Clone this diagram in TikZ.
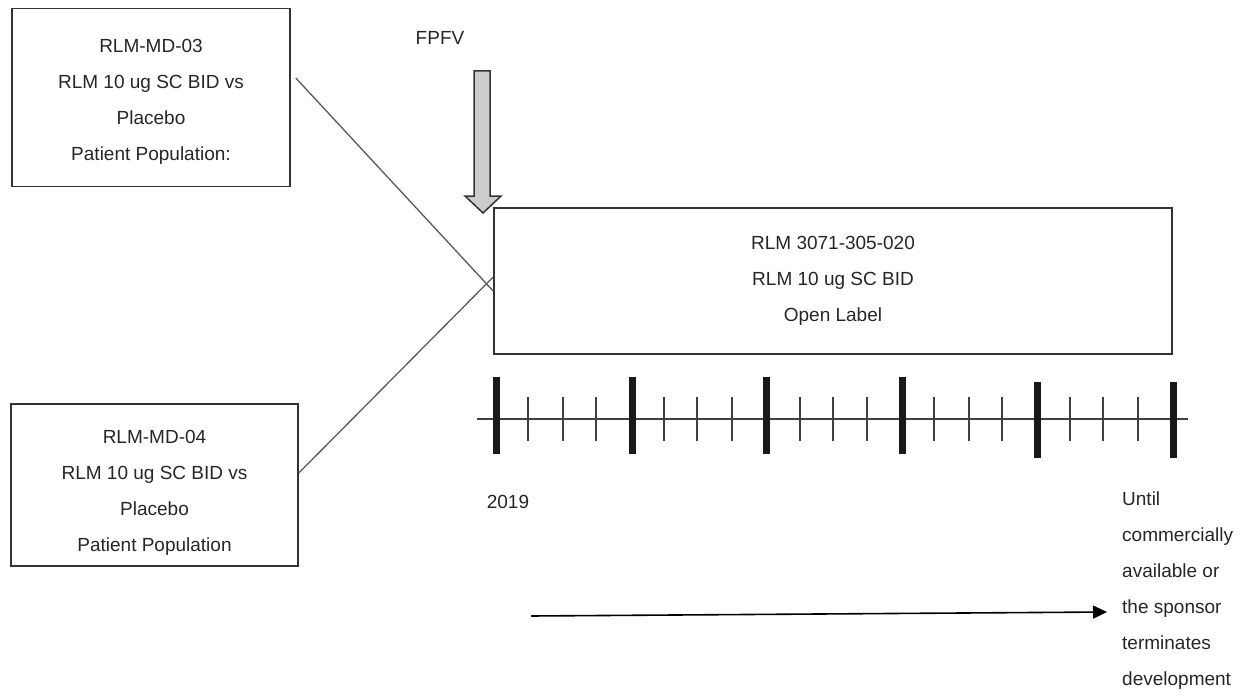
\documentclass[tikz,border=0pt]{standalone}
\usepackage{fontspec}
\setmainfont{Liberation Sans}
\usetikzlibrary{arrows.meta}
\begin{document}
\begin{tikzpicture}[x=1pt, y=-1pt, font=\fontsize{19}{36}\selectfont, text=black!85,
    studybox/.style={draw=black!80, line width=1.6pt, align=center, inner sep=0pt},
    link/.style={draw=black!65, line width=1.3pt},
    major/.style={draw=black!90, line width=7pt},
    minor/.style={draw=black!75, line width=2pt}]
    \useasboundingbox (0,0) rectangle (1248,698);
    \node[studybox, minimum width=278, minimum height=178] (md03) at (151,97.5) {};
    \node[align=center] (md03text) at ([yshift=-4pt]md03.center) {RLM-MD-03\\RLM 10 ug SC BID vs\\Placebo\\Patient Population:};
    \node[studybox, minimum width=287, minimum height=162] (md04) at (154.5,485) {};
    \node[align=center] (md04text) at ([yshift=-8pt]md04.center) {RLM-MD-04\\RLM 10 ug SC BID vs\\Placebo\\Patient Population};
    \node[studybox, minimum width=678, minimum height=146] (ext) at (833,281) {RLM 3071-305-020\\RLM 10 ug SC BID\\Open Label};
    \node (fpfv) at (440,38) {FPFV};
    \draw[line width=1.5pt, draw=black!80, fill=black!20] (474,71) -- (490,71) -- (490,196) -- (501,196) -- (483,213) -- (465,196) -- (474,196) -- cycle;
    \draw[link] ([xshift=5pt, yshift=19.5pt]md03.east) -- ([yshift=-10pt]ext.west);
    \draw[link] ([yshift=12pt]md04.east) -- ([yshift=4pt]ext.west);
    \draw[minor] (477,419) -- (1188,419);
    \foreach \x in {528,563,596,664,697,732,800,833,867,934,969,1002,1070,1103,1138}
        \draw[minor] (\x,397) -- (\x,441);
    \foreach \x/\a/\b in {496/377/454, 632/377/454, 766/377/454, 902/377/454, 1037/382/458, 1173/382/458}
        \draw[major] (\x,\a) -- (\x,\b);
    \node (year) at (508,502) {2019};
    \node[anchor=west, align=left, inner sep=0pt] (until) at (1122,591) {Until\\commercially\\available or\\the sponsor\\terminates\\development};
    \coordinate (runstart) at (531,616);
    \draw[draw=black, line width=1.6pt, -{Triangle[length=14pt, width=13pt]}] (runstart) -- ([xshift=-15pt, yshift=-21pt]until.west);
\end{tikzpicture}
\end{document}
